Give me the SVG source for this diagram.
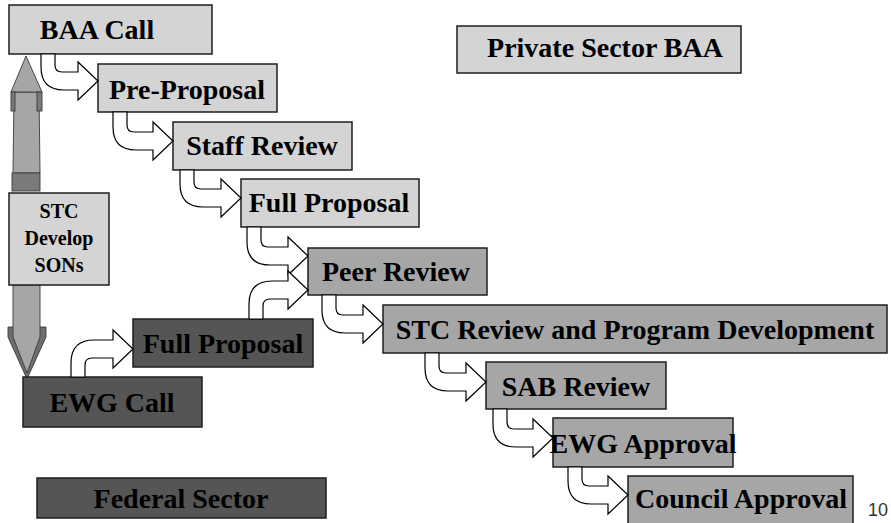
<svg xmlns="http://www.w3.org/2000/svg" width="891" height="523" viewBox="0 0 891 523">
<style>
.box{stroke:#1e1e1e;stroke-width:1.5}
.light{fill:#d4d4d4}
.mid{fill:#a6a6a6}
.dark{fill:#555555}
.t{font-family:"Liberation Serif","Times New Roman",serif;font-weight:bold;font-size:28px;fill:#000;text-anchor:middle}
.ts{font-size:20px}
.c{fill:#fff;stroke:#000;stroke-width:1.2;stroke-linejoin:miter}
.g1{fill:#a6a6a6;stroke:#3a3a3a;stroke-width:0.9}
.g2{fill:#7a7a7a;stroke:#3a3a3a;stroke-width:0.9}
.g3{fill:#6e6e6e;stroke:#3a3a3a;stroke-width:0.9}
</style>
<rect width="891" height="523" fill="#fff"/>

<g id="updown-arrows">
  <polygon class="g1" points="14,92 39,92 40,173 13,173"/>
  <polygon class="g1" points="26,56 11,92 42,92"/>
  <rect class="g2" x="11" y="92" width="4" height="19"/>
  <rect class="g2" x="37" y="92" width="5" height="19"/>
  <rect class="g2" x="12" y="173" width="28" height="18"/>
  <polygon class="g3" points="8,327 46,327 46,337 27,379 8,337"/>
  <polygon class="g1" points="13,285 40,285 40,337 27,373 13,337"/>
</g>

<g id="node-baa-call"><rect class="box light" x="9" y="5" width="203" height="49"/><text class="t" x="97" y="39">BAA Call</text></g>
<g id="node-private-sector"><rect class="box light" x="457" y="26" width="284" height="47"/><text class="t" x="605" y="57">Private Sector BAA</text></g>
<g id="node-pre-proposal"><rect class="box light" x="98" y="64" width="179" height="48"/><text class="t" x="187" y="99">Pre-Proposal</text></g>
<g id="node-staff-review"><rect class="box light" x="173" y="122" width="179" height="48"/><text class="t" x="262" y="155">Staff Review</text></g>
<g id="node-full-proposal"><rect class="box light" x="241" y="179" width="178" height="48"/><text class="t" x="329" y="212">Full Proposal</text></g>
<g id="node-stc-develop"><rect class="box light" x="9" y="193" width="100" height="92"/><text class="t ts" x="59" y="218">STC</text><text class="t ts" x="59" y="245">Develop</text><text class="t ts" x="59" y="272">SONs</text></g>
<g id="node-peer-review"><rect class="box mid" x="308" y="248" width="179" height="47"/><text class="t" x="396" y="281">Peer Review</text></g>
<g id="node-stc-review"><rect class="box mid" x="383" y="305" width="504" height="48"/><text class="t" x="635" y="339">STC Review and Program Development</text></g>
<g id="node-sab-review"><rect class="box mid" x="486" y="362" width="180" height="47"/><text class="t" x="576" y="396">SAB Review</text></g>
<g id="node-ewg-approval"><rect class="box mid" x="553" y="418" width="180" height="49"/><text class="t" x="643" y="453">EWG Approval</text></g>
<g id="node-council-approval"><rect class="box mid" x="628" y="476" width="225" height="52"/><text class="t" x="741" y="508">Council Approval</text></g>
<g id="node-full-proposal-fed"><rect class="box dark" x="133" y="319" width="180" height="48"/><text class="t" x="223" y="353">Full Proposal</text></g>
<g id="node-ewg-call"><rect class="box dark" x="23" y="377" width="179" height="50"/><text class="t" x="112" y="412">EWG Call</text></g>
<g id="node-federal-sector"><rect class="box dark" x="37" y="478" width="289" height="40"/><text class="t" x="181" y="508">Federal Sector</text></g>

<g id="connectors">
  <path class="c" d="M41,54 L41,67 Q41,90 64,90 L78,90 L78,100 L98,81 L78,62 L78,72 L62,72 Q55,72 55,65 L55,54 Z"/>
  <path class="c" d="M113,112 L113,127 Q113,150 136,150 L153,150 L153,160 L173,141 L153,122 L153,132 L134,132 Q127,132 127,125 L127,112 Z"/>
  <path class="c" d="M180,170 L180,184 Q180,207 203,207 L221,207 L221,217 L241,198 L221,179 L221,189 L201,189 Q194,189 194,182 L194,170 Z"/>
  <path class="c" d="M247,227 L247,242 Q247,265 270,265 L288,265 L288,275 L308,256 L288,237 L288,247 L268,247 Q261,247 261,240 L261,227 Z"/>
  <path class="c" d="M322,295 L322,310 Q322,333 345,333 L363,333 L363,343 L383,324 L363,305 L363,315 L343,315 Q336,315 336,308 L336,295 Z"/>
  <path class="c" d="M425,353 L425,368 Q425,391 448,391 L466,391 L466,401 L486,382 L466,363 L466,373 L446,373 Q439,373 439,366 L439,353 Z"/>
  <path class="c" d="M493,409 L493,424 Q493,447 516,447 L533,447 L533,457 L553,438 L533,419 L533,429 L514,429 Q507,429 507,422 L507,409 Z"/>
  <path class="c" d="M568,467 L568,481 Q568,504 591,504 L608,504 L608,514 L628,495 L608,476 L608,486 L589,486 Q582,486 582,479 L582,467 Z"/>
  <path class="c" d="M71,377 L71,363 Q71,340 94,340 L113,340 L113,330 L133,349 L113,368 L113,358 L92,358 Q85,358 85,365 L85,377 Z"/>
  <path class="c" d="M249,319 L249,304 Q249,281 272,281 L288,281 L288,271 L308,290 L288,309 L288,299 L270,299 Q263,299 263,306 L263,319 Z"/>
</g>

<text x="868" y="516" font-family="Liberation Sans, Arial, sans-serif" font-size="18" fill="#333">10</text>
</svg>
